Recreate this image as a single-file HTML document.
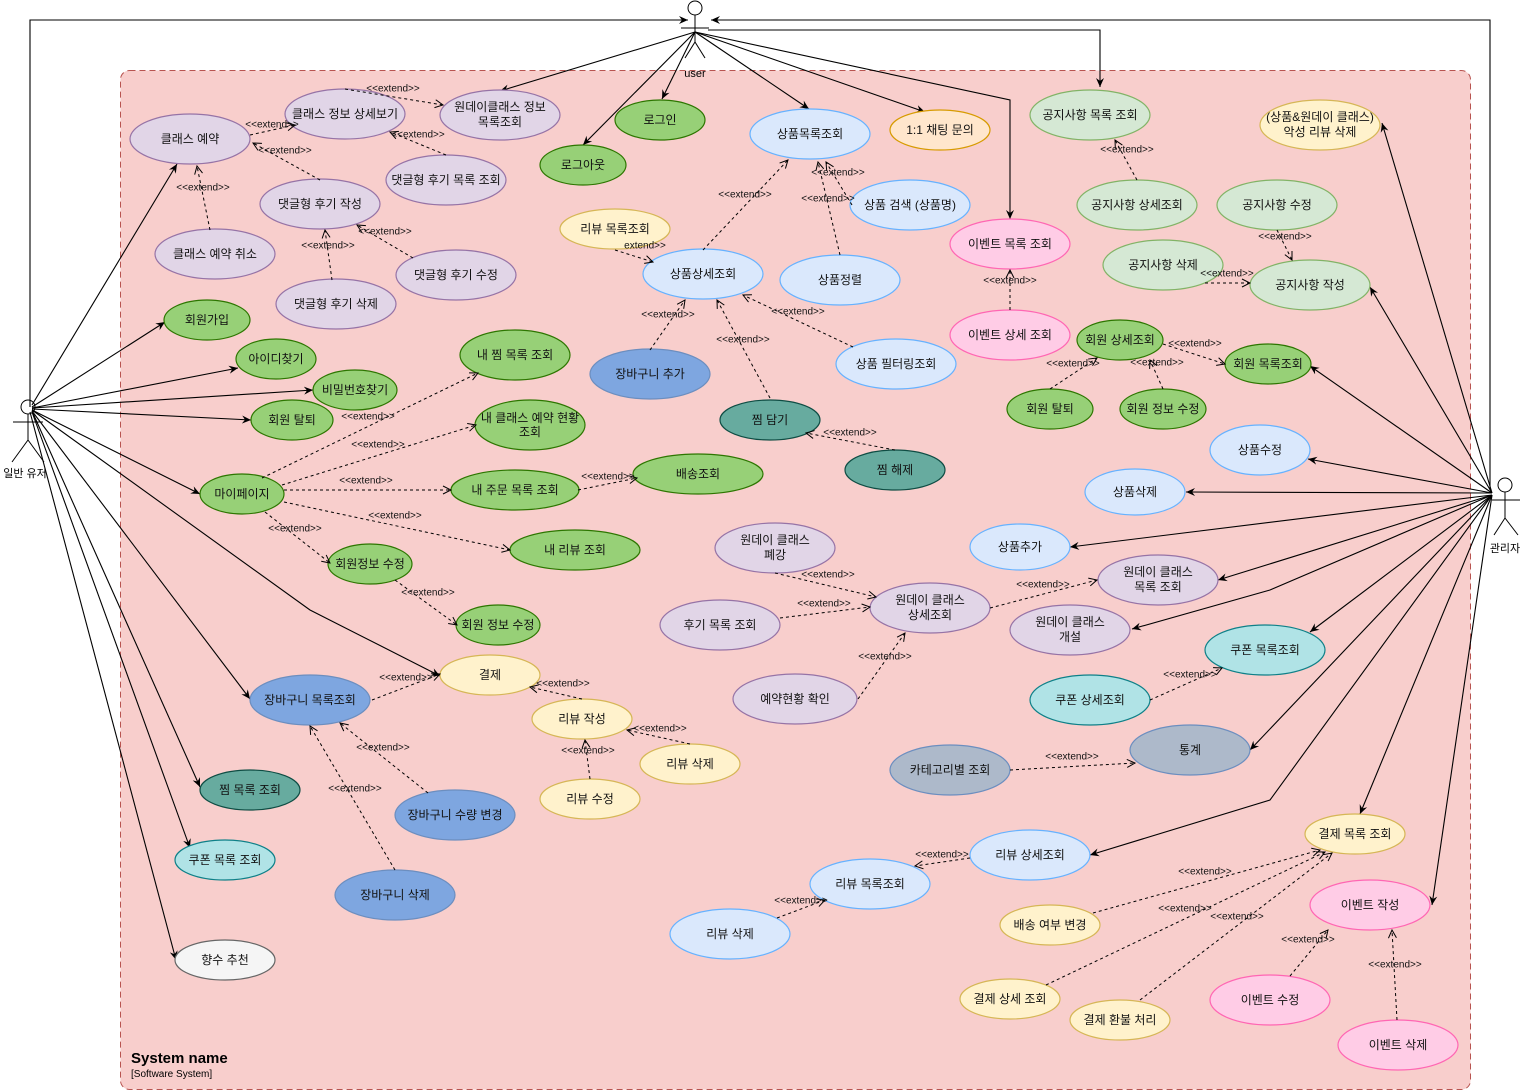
<!DOCTYPE html>
<html><head><meta charset="utf-8"><style>
html,body{margin:0;padding:0;background:#fff;}
svg{display:block;font-family:"Liberation Sans","Noto Sans CJK KR",sans-serif;}
.e{font-size:12px;text-anchor:middle;dominant-baseline:central;fill:#111;}
.x{font-size:10px;text-anchor:middle;dominant-baseline:central;fill:#111;}
.s{stroke:#000;stroke-width:1.1;fill:none;marker-end:url(#fa);}
.d{stroke:#000;stroke-width:1;fill:none;stroke-dasharray:3,3;marker-end:url(#oa);}
</style></head><body>
<svg width="1524" height="1091" viewBox="0 0 1524 1091" xmlns="http://www.w3.org/2000/svg">
<defs>
<marker id="fa" markerWidth="10" markerHeight="10" refX="9" refY="5" orient="auto" markerUnits="userSpaceOnUse"><path d="M0,1 L9,5 L0,9 L3,5 Z" fill="#000"/></marker>
<marker id="oa" markerWidth="10" markerHeight="10" refX="9" refY="5" orient="auto" markerUnits="userSpaceOnUse"><path d="M1,1 L9,5 L1,9" fill="none" stroke="#000" stroke-width="1"/></marker>
</defs>
<rect x="120.5" y="70.5" width="1350" height="1019" rx="9" fill="#f8cecc" stroke="#b85450" stroke-dasharray="6,4"/>
<text x="131" y="1063" font-size="15" font-weight="bold">System name</text>
<text x="131" y="1077" font-size="10">[Software System]</text>

<!-- actors -->
<g stroke="#000" fill="#fff" stroke-width="1">
<circle cx="695" cy="8" r="7"/><line x1="695" y1="15" x2="695" y2="42"/><line x1="681" y1="28" x2="709" y2="28"/><line x1="695" y1="42" x2="685" y2="58"/><line x1="695" y1="42" x2="705" y2="58"/>
<circle cx="28" cy="407" r="7"/><line x1="28" y1="414" x2="28" y2="440"/><line x1="13" y1="422" x2="43" y2="422"/><line x1="28" y1="440" x2="12" y2="462"/><line x1="28" y1="440" x2="44" y2="462"/>
<circle cx="1505" cy="485" r="7"/><line x1="1505" y1="492" x2="1505" y2="518"/><line x1="1492" y1="500" x2="1520" y2="500"/><line x1="1505" y1="518" x2="1494" y2="535"/><line x1="1505" y1="518" x2="1518" y2="535"/>
</g>
<text x="695" y="77" font-size="11" text-anchor="middle">user</text>
<text x="25" y="477" font-size="11" text-anchor="middle">일반 유저</text>
<text x="1505" y="552" font-size="11" text-anchor="middle">관리자</text>

<!-- solid associations -->
<g>
<polyline class="s" points="30,407 30,20 688,20"/>
<polyline class="s" points="1490,490 1490,20 711,20"/>
<line class="s" x1="32" y1="405" x2="177" y2="164"/>
<line class="s" x1="32" y1="407" x2="165" y2="322"/>
<line class="s" x1="32" y1="408" x2="238" y2="368"/>
<line class="s" x1="32" y1="408" x2="313" y2="390"/>
<line class="s" x1="32" y1="409" x2="251" y2="420"/>
<line class="s" x1="32" y1="410" x2="200" y2="494"/>
<polyline class="s" points="32,410 310,610 440,676"/>
<line class="s" x1="32" y1="411" x2="250" y2="699"/>
<line class="s" x1="32" y1="411" x2="200" y2="787"/>
<line class="s" x1="32" y1="412" x2="190" y2="848"/>
<line class="s" x1="30" y1="412" x2="176" y2="960"/>
<line class="s" x1="695" y1="32" x2="500" y2="91"/>
<line class="s" x1="695" y1="32" x2="662" y2="99"/>
<line class="s" x1="695" y1="32" x2="583" y2="145"/>
<line class="s" x1="695" y1="32" x2="809" y2="109"/>
<line class="s" x1="695" y1="32" x2="925" y2="112"/>
<polyline class="s" points="695,32 1010,100 1010,219"/>
<polyline class="s" points="708,30 1100,30 1100,87"/>
<line class="s" x1="1492" y1="493" x2="1382" y2="123"/>
<line class="s" x1="1492" y1="493" x2="1370" y2="287"/>
<line class="s" x1="1492" y1="493" x2="1310" y2="366"/>
<line class="s" x1="1492" y1="493" x2="1308" y2="459"/>
<line class="s" x1="1492" y1="493" x2="1186" y2="492"/>
<line class="s" x1="1492" y1="495" x2="1070" y2="547"/>
<line class="s" x1="1492" y1="495" x2="1218" y2="580"/>
<polyline class="s" points="1492,495 1270,590 1132,629"/>
<line class="s" x1="1492" y1="495" x2="1310" y2="632"/>
<line class="s" x1="1492" y1="495" x2="1250" y2="750"/>
<polyline class="s" points="1492,495 1270,800 1090,855"/>
<line class="s" x1="1492" y1="495" x2="1360" y2="814"/>
<line class="s" x1="1492" y1="495" x2="1432" y2="905"/>
</g>

<!-- ellipses -->
<g stroke-width="1.2">
<g fill="#e1d5e7" stroke="#9673a6">
<ellipse cx="190" cy="139" rx="60" ry="25"/><ellipse cx="345" cy="114" rx="60" ry="25"/><ellipse cx="500" cy="115" rx="60" ry="25"/><ellipse cx="446" cy="180" rx="60" ry="25"/><ellipse cx="320" cy="204" rx="60" ry="25"/><ellipse cx="215" cy="254" rx="60" ry="25"/><ellipse cx="456" cy="275" rx="60" ry="25"/><ellipse cx="336" cy="304" rx="60" ry="25"/>
<ellipse cx="775" cy="548" rx="60" ry="25"/><ellipse cx="930" cy="608" rx="60" ry="25"/><ellipse cx="1158" cy="580" rx="60" ry="25"/><ellipse cx="1070" cy="630" rx="60" ry="25"/><ellipse cx="720" cy="625" rx="60" ry="25"/><ellipse cx="795" cy="699" rx="62" ry="25"/>
</g>
<g fill="#97d077" stroke="#2d7600">
<ellipse cx="660" cy="120" rx="45" ry="20"/><ellipse cx="583" cy="165" rx="43" ry="20"/><ellipse cx="207" cy="320" rx="43" ry="20"/><ellipse cx="276" cy="359" rx="40" ry="20"/><ellipse cx="355" cy="390" rx="42" ry="20"/><ellipse cx="292" cy="420" rx="41" ry="20"/>
<ellipse cx="515" cy="355" rx="55" ry="25"/><ellipse cx="530" cy="425" rx="55" ry="25"/><ellipse cx="242" cy="494" rx="42" ry="20"/><ellipse cx="515" cy="490" rx="64" ry="20"/><ellipse cx="698" cy="474" rx="65" ry="20"/><ellipse cx="575" cy="550" rx="65" ry="20"/><ellipse cx="370" cy="564" rx="42" ry="20"/><ellipse cx="498" cy="625" rx="42" ry="20"/>
<ellipse cx="1120" cy="340" rx="43" ry="20"/><ellipse cx="1268" cy="364" rx="43" ry="20"/><ellipse cx="1050" cy="409" rx="43" ry="20"/><ellipse cx="1163" cy="409" rx="43" ry="20"/>
</g>
<g fill="#dae8fc" stroke="#66b2ff">
<ellipse cx="810" cy="134" rx="60" ry="25"/><ellipse cx="910" cy="205" rx="60" ry="25"/><ellipse cx="703" cy="274" rx="60" ry="25"/><ellipse cx="840" cy="280" rx="60" ry="25"/><ellipse cx="896" cy="364" rx="60" ry="25"/>
<ellipse cx="1260" cy="450" rx="50" ry="25"/><ellipse cx="1135" cy="492" rx="50" ry="23"/><ellipse cx="1020" cy="547" rx="50" ry="23"/>
<ellipse cx="1030" cy="855" rx="60" ry="25"/><ellipse cx="870" cy="884" rx="60" ry="25"/><ellipse cx="730" cy="934" rx="60" ry="25"/>
</g>
<ellipse cx="940" cy="130" rx="50" ry="20" fill="#ffe6cc" stroke="#d79b00"/>
<g fill="#fff2cc" stroke="#d6b656">
<ellipse cx="615" cy="229" rx="55" ry="20"/><ellipse cx="1320" cy="125" rx="60" ry="25"/><ellipse cx="490" cy="675" rx="50" ry="20"/><ellipse cx="582" cy="719" rx="50" ry="20"/><ellipse cx="690" cy="764" rx="50" ry="20"/><ellipse cx="590" cy="799" rx="50" ry="20"/>
<ellipse cx="1355" cy="834" rx="50" ry="20"/><ellipse cx="1050" cy="925" rx="50" ry="20"/><ellipse cx="1010" cy="999" rx="50" ry="20"/><ellipse cx="1120" cy="1020" rx="50" ry="20"/>
</g>
<g fill="#ffcce6" stroke="#ff66b3">
<ellipse cx="1010" cy="244" rx="60" ry="25"/><ellipse cx="1010" cy="335" rx="60" ry="25"/><ellipse cx="1370" cy="905" rx="60" ry="25"/><ellipse cx="1270" cy="1000" rx="60" ry="25"/><ellipse cx="1398" cy="1045" rx="60" ry="25"/>
</g>
<g fill="#d5e8d4" stroke="#82b366">
<ellipse cx="1090" cy="115" rx="60" ry="25"/><ellipse cx="1137" cy="205" rx="60" ry="25"/><ellipse cx="1277" cy="205" rx="60" ry="25"/><ellipse cx="1163" cy="265" rx="60" ry="25"/><ellipse cx="1310" cy="285" rx="60" ry="25"/>
</g>
<g fill="#7ea6e0" stroke="#6c8ebf">
<ellipse cx="650" cy="374" rx="60" ry="25"/><ellipse cx="310" cy="700" rx="60" ry="25"/><ellipse cx="455" cy="815" rx="60" ry="25"/><ellipse cx="395" cy="895" rx="60" ry="25"/>
</g>
<g fill="#67ab9f" stroke="#0f4d44">
<ellipse cx="770" cy="420" rx="50" ry="20"/><ellipse cx="895" cy="470" rx="50" ry="20"/><ellipse cx="250" cy="790" rx="50" ry="20"/>
</g>
<g fill="#b0e3e6" stroke="#0e8088">
<ellipse cx="225" cy="860" rx="50" ry="20"/><ellipse cx="1265" cy="650" rx="60" ry="25"/><ellipse cx="1090" cy="700" rx="60" ry="25"/>
</g>
<g fill="#adb9ca" stroke="#6c8ebf">
<ellipse cx="1190" cy="750" rx="60" ry="25"/><ellipse cx="950" cy="770" rx="60" ry="25"/>
</g>
<ellipse cx="225" cy="960" rx="50" ry="20" fill="#f5f5f5" stroke="#666"/>
</g>

<!-- ellipse texts -->
<g class="e">
<text x="190" y="139">클래스 예약</text><text x="345" y="114">클래스 정보 상세보기</text>
<text x="500" y="107">원데이클래스 정보</text><text x="500" y="122">목록조회</text>
<text x="446" y="180">댓글형 후기 목록 조회</text><text x="320" y="204">댓글형 후기 작성</text><text x="215" y="254">클래스 예약 취소</text><text x="456" y="275">댓글형 후기 수정</text><text x="336" y="304">댓글형 후기 삭제</text>
<text x="775" y="540">원데이 클래스</text><text x="775" y="555">폐강</text>
<text x="930" y="600">원데이 클래스</text><text x="930" y="615">상세조회</text>
<text x="1158" y="572">원데이 클래스</text><text x="1158" y="587">목록 조회</text>
<text x="1070" y="622">원데이 클래스</text><text x="1070" y="637">개설</text>
<text x="720" y="625">후기 목록 조회</text><text x="795" y="699">예약현황 확인</text>
<text x="660" y="120">로그인</text><text x="583" y="165">로그아웃</text><text x="207" y="320">회원가입</text><text x="276" y="359">아이디찾기</text><text x="355" y="390">비밀번호찾기</text><text x="292" y="420">회원 탈퇴</text>
<text x="515" y="355">내 찜 목록 조회</text>
<text x="530" y="418">내 클래스 예약 현황</text><text x="530" y="432">조회</text>
<text x="242" y="494">마이페이지</text><text x="515" y="490">내 주문 목록 조회</text><text x="698" y="474">배송조회</text><text x="575" y="550">내 리뷰 조회</text><text x="370" y="564">회원정보 수정</text><text x="498" y="625">회원 정보 수정</text>
<text x="1120" y="340">회원 상세조회</text><text x="1268" y="364">회원 목록조회</text><text x="1050" y="409">회원 탈퇴</text><text x="1163" y="409">회원 정보 수정</text>
<text x="810" y="134">상품목록조회</text><text x="910" y="205">상품 검색 (상품명)</text><text x="703" y="274">상품상세조회</text><text x="840" y="280">상품정렬</text><text x="896" y="364">상품 필터링조회</text>
<text x="1260" y="450">상품수정</text><text x="1135" y="492">상품삭제</text><text x="1020" y="547">상품추가</text>
<text x="1030" y="855">리뷰 상세조회</text><text x="870" y="884">리뷰 목록조회</text><text x="730" y="934">리뷰 삭제</text>
<text x="940" y="130">1:1 채팅 문의</text>
<text x="615" y="229">리뷰 목록조회</text>
<text x="1320" y="117">(상품&amp;원데이 클래스)</text><text x="1320" y="132">악성 리뷰 삭제</text>
<text x="490" y="675">결제</text><text x="582" y="719">리뷰 작성</text><text x="690" y="764">리뷰 삭제</text><text x="590" y="799">리뷰 수정</text>
<text x="1355" y="834">결제 목록 조회</text><text x="1050" y="925">배송 여부 변경</text><text x="1010" y="999">결제 상세 조회</text><text x="1120" y="1020">결제 환불 처리</text>
<text x="1010" y="244">이벤트 목록 조회</text><text x="1010" y="335">이벤트 상세 조회</text><text x="1370" y="905">이벤트 작성</text><text x="1270" y="1000">이벤트 수정</text><text x="1398" y="1045">이벤트 삭제</text>
<text x="1090" y="115">공지사항 목록 조회</text><text x="1137" y="205">공지사항 상세조회</text><text x="1277" y="205">공지사항 수정</text><text x="1163" y="265">공지사항 삭제</text><text x="1310" y="285">공지사항 작성</text>
<text x="650" y="374">장바구니 추가</text><text x="310" y="700">장바구니 목록조회</text><text x="455" y="815">장바구니 수량 변경</text><text x="395" y="895">장바구니 삭제</text>
<text x="770" y="420">찜 담기</text><text x="895" y="470">찜 해제</text><text x="250" y="790">찜 목록 조회</text>
<text x="225" y="860">쿠폰 목록 조회</text><text x="1265" y="650">쿠폰 목록조회</text><text x="1090" y="700">쿠폰 상세조회</text>
<text x="1190" y="750">통계</text><text x="950" y="770">카테고리별 조회</text>
<text x="225" y="960">향수 추천</text>
</g>

<!-- dashed extends -->
<g>
<line class="d" x1="345" y1="89" x2="443" y2="105"/>
<line class="d" x1="250" y1="135" x2="295" y2="125"/>
<line class="d" x1="320" y1="180" x2="253" y2="143"/>
<line class="d" x1="446" y1="155" x2="390" y2="132"/>
<line class="d" x1="210" y1="230" x2="197" y2="166"/>
<line class="d" x1="413" y1="258" x2="357" y2="225"/>
<line class="d" x1="332" y1="280" x2="325" y2="230"/>
<line class="d" x1="703" y1="250" x2="788" y2="160"/>
<line class="d" x1="840" y1="255" x2="818" y2="162"/>
<line class="d" x1="852" y1="205" x2="826" y2="162"/>
<line class="d" x1="615" y1="250" x2="653" y2="262"/>
<line class="d" x1="650" y1="350" x2="685" y2="300"/>
<line class="d" x1="770" y1="398" x2="717" y2="300"/>
<line class="d" x1="853" y1="347" x2="743" y2="295"/>
<line class="d" x1="895" y1="450" x2="806" y2="433"/>
<line class="d" x1="262" y1="478" x2="478" y2="373"/>
<line class="d" x1="282" y1="485" x2="476" y2="425"/>
<line class="d" x1="284" y1="490" x2="451" y2="490"/>
<line class="d" x1="284" y1="502" x2="510" y2="550"/>
<line class="d" x1="265" y1="512" x2="330" y2="563"/>
<line class="d" x1="395" y1="580" x2="457" y2="625"/>
<line class="d" x1="578" y1="490" x2="637" y2="478"/>
<line class="d" x1="372" y1="700" x2="440" y2="674"/>
<line class="d" x1="582" y1="699" x2="530" y2="687"/>
<line class="d" x1="690" y1="744" x2="627" y2="730"/>
<line class="d" x1="590" y1="779" x2="585" y2="740"/>
<line class="d" x1="428" y1="793" x2="340" y2="723"/>
<line class="d" x1="395" y1="870" x2="310" y2="726"/>
<line class="d" x1="1137" y1="180" x2="1115" y2="140"/>
<line class="d" x1="1277" y1="230" x2="1292" y2="260"/>
<line class="d" x1="1205" y1="283" x2="1250" y2="283"/>
<line class="d" x1="1010" y1="310" x2="1010" y2="270"/>
<line class="d" x1="1163" y1="344" x2="1225" y2="364"/>
<line class="d" x1="1050" y1="389" x2="1097" y2="358"/>
<line class="d" x1="1163" y1="389" x2="1150" y2="360"/>
<line class="d" x1="775" y1="573" x2="876" y2="597"/>
<line class="d" x1="780" y1="618" x2="870" y2="607"/>
<line class="d" x1="858" y1="699" x2="905" y2="633"/>
<line class="d" x1="990" y1="608" x2="1097" y2="580"/>
<line class="d" x1="1150" y1="700" x2="1222" y2="668"/>
<line class="d" x1="1010" y1="770" x2="1135" y2="763"/>
<line class="d" x1="970" y1="858" x2="915" y2="866"/>
<line class="d" x1="777" y1="918" x2="825" y2="900"/>
<line class="d" x1="1093" y1="913" x2="1320" y2="850"/>
<line class="d" x1="1046" y1="985" x2="1325" y2="852"/>
<line class="d" x1="1140" y1="1000" x2="1332" y2="853"/>
<line class="d" x1="1290" y1="976" x2="1328" y2="930"/>
<line class="d" x1="1397" y1="1020" x2="1392" y2="930"/>
</g>
<g class="x">
<text x="393" y="89">&lt;&lt;extend&gt;&gt;</text><text x="272" y="125">&lt;&lt;extend&gt;&gt;</text><text x="285" y="151">&lt;&lt;extend&gt;&gt;</text><text x="418" y="135">&lt;&lt;extend&gt;&gt;</text>
<text x="203" y="188">&lt;&lt;extend&gt;&gt;</text><text x="385" y="232">&lt;&lt;extend&gt;&gt;</text><text x="328" y="246">&lt;&lt;extend&gt;&gt;</text>
<text x="745" y="195">&lt;&lt;extend&gt;&gt;</text><text x="838" y="173">&lt;&lt;extend&gt;&gt;</text><text x="828" y="199">&lt;&lt;extend&gt;&gt;</text><text x="645" y="246">extend&gt;&gt;</text>
<text x="668" y="315">&lt;&lt;extend&gt;&gt;</text><text x="743" y="340">&lt;&lt;extend&gt;&gt;</text><text x="798" y="312">&lt;&lt;extend&gt;&gt;</text><text x="850" y="433">&lt;&lt;extend&gt;&gt;</text>
<text x="368" y="417">&lt;&lt;extend&gt;&gt;</text><text x="378" y="445">&lt;&lt;extend&gt;&gt;</text><text x="366" y="481">&lt;&lt;extend&gt;&gt;</text><text x="395" y="516">&lt;&lt;extend&gt;&gt;</text><text x="295" y="529">&lt;&lt;extend&gt;&gt;</text><text x="428" y="593">&lt;&lt;extend&gt;&gt;</text><text x="608" y="477">&lt;&lt;extend&gt;&gt;</text>
<text x="406" y="678">&lt;&lt;extend&gt;&gt;</text><text x="563" y="684">&lt;&lt;extend&gt;&gt;</text><text x="660" y="729">&lt;&lt;extend&gt;&gt;</text><text x="588" y="751">&lt;&lt;extend&gt;&gt;</text><text x="383" y="748">&lt;&lt;extend&gt;&gt;</text><text x="355" y="789">&lt;&lt;extend&gt;&gt;</text>
<text x="1127" y="150">&lt;&lt;extend&gt;&gt;</text><text x="1285" y="237">&lt;&lt;extend&gt;&gt;</text><text x="1227" y="274">&lt;&lt;extend&gt;&gt;</text><text x="1010" y="281">&lt;&lt;extend&gt;&gt;</text>
<text x="1195" y="344">&lt;&lt;extend&gt;&gt;</text><text x="1073" y="364">&lt;&lt;extend&gt;&gt;</text><text x="1157" y="363">&lt;&lt;extend&gt;&gt;</text>
<text x="828" y="575">&lt;&lt;extend&gt;&gt;</text><text x="824" y="604">&lt;&lt;extend&gt;&gt;</text><text x="885" y="657">&lt;&lt;extend&gt;&gt;</text><text x="1043" y="585">&lt;&lt;extend&gt;&gt;</text>
<text x="1190" y="675">&lt;&lt;extend&gt;&gt;</text><text x="1072" y="757">&lt;&lt;extend&gt;&gt;</text><text x="942" y="855">&lt;&lt;extend&gt;&gt;</text><text x="801" y="901">&lt;&lt;extend&gt;&gt;</text>
<text x="1205" y="872">&lt;&lt;extend&gt;&gt;</text><text x="1185" y="909">&lt;&lt;extend&gt;&gt;</text><text x="1237" y="917">&lt;&lt;extend&gt;&gt;</text><text x="1308" y="940">&lt;&lt;extend&gt;&gt;</text><text x="1395" y="965">&lt;&lt;extend&gt;&gt;</text>
</g>
</svg>
</body></html>
